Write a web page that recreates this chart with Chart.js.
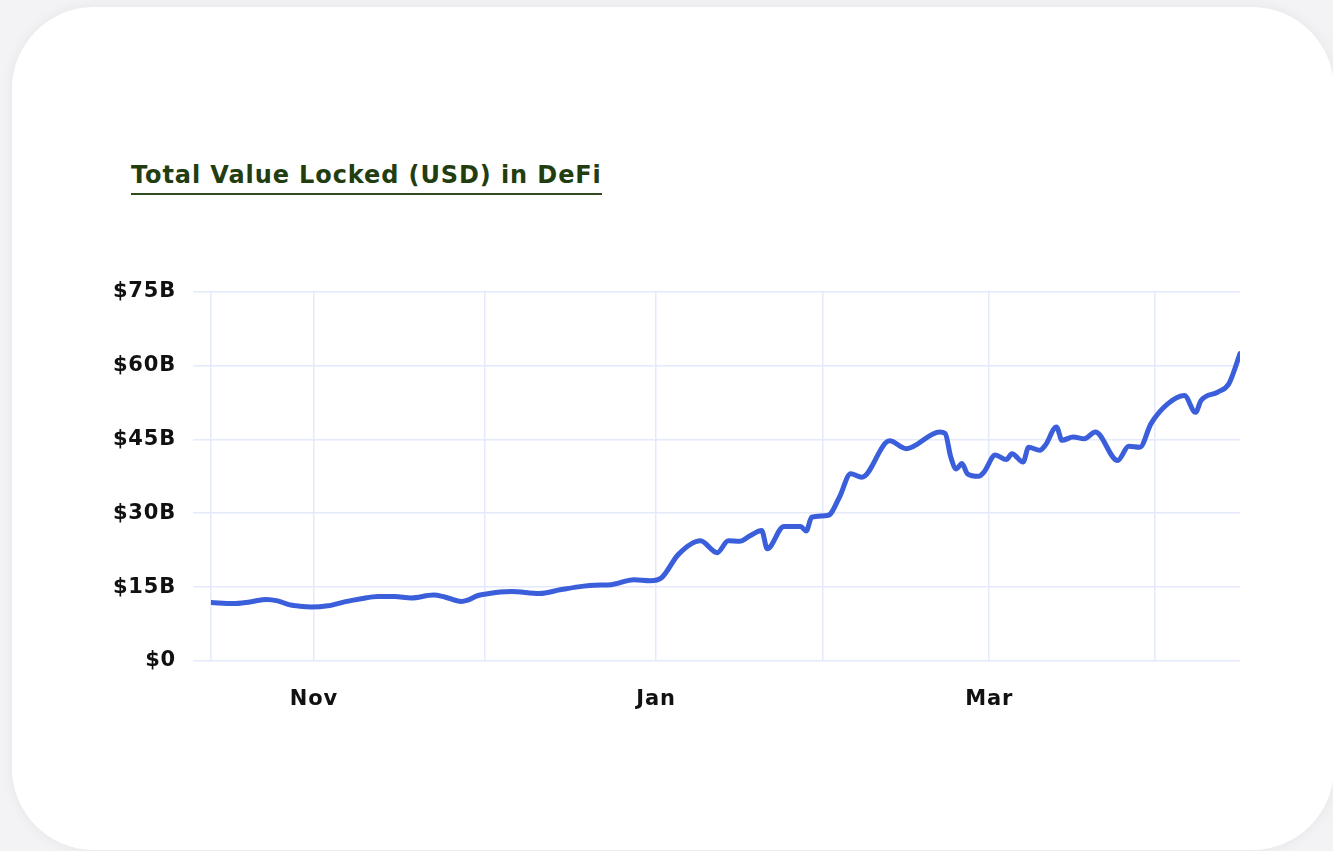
<!DOCTYPE html>
<html>
<head>
<meta charset="utf-8">
<script src="https://cdn.jsdelivr.net/npm/chart.js@4"></script>
<style>
    html, body {
        margin: 0;
        padding: 0;
        width: 1333px;
        height: 851px;
        background: #f3f3f5;
        overflow: hidden;
    }
    .card {
        position: absolute;
        left: 12px;
        top: 7px;
        width: 1322px;
        height: 843px;
        background: #ffffff;
        border-radius: 82px;
        box-shadow: 0 0 14px rgba(0, 0, 0, 0.06);
    }
    .title {
        position: absolute;
        left: 131px;
        top: 161px;
        font-family: "DejaVu Sans", sans-serif;
        font-weight: bold;
        font-size: 24px;
        letter-spacing: 0.9px;
        line-height: 28px;
        color: #223d10;
        border-bottom: 2px solid #2f4a1c;
        padding-bottom: 4px;
        white-space: nowrap;
    }
    .chart-box {
        position: absolute;
        left: 100px;
        top: 262px;
        width: 1150px;
        height: 449px;
    }
</style>
</head>
<body>
<div class="card"></div>
<div class="title">Total Value Locked (USD) in DeFi</div>
<div class="chart-box"><canvas id="tvlChart"></canvas></div>

<script>
// Days counted from the first point of the series (mid October)
const dayIndex = [
    0, 4, 7, 10, 12, 14, 16, 18, 21, 24, 27, 30, 33, 36, 40, 42, 45, 46, 48, 50,
    52, 54, 59, 63, 67, 69, 72, 76, 79, 81, 84, 88, 91, 93, 95, 97, 99, 100, 103, 106,
    107, 108, 111, 113, 115, 117, 122, 125, 131, 132, 133, 134, 135, 136, 138, 139, 141, 143, 144, 146,
    147, 149, 150, 152, 153, 155, 157, 159, 163, 165, 167, 169, 172, 175, 177, 178, 181, 183, 185
];

// Total value locked, billions of USD
const tvlBillions = [
    11.9, 11.65, 12.0, 12.5, 12.2, 11.45, 11.1, 10.95, 11.2, 12.0, 12.65, 13.1, 13.1, 12.8, 13.4, 13.0, 12.1, 12.3, 13.3, 13.7,
    14.0, 14.1, 13.7, 14.5, 15.2, 15.4, 15.5, 16.5, 16.3, 16.9, 21.6, 24.4, 22.0, 24.4, 24.3, 25.5, 26.5, 22.8, 27.3, 27.3,
    26.4, 29.2, 29.6, 33.3, 38.0, 37.3, 44.7, 43.1, 46.5, 46.2, 41.4, 39.0, 40.1, 38.0, 37.5, 38.4, 41.8, 40.9, 42.1, 40.4,
    43.4, 42.8, 43.8, 47.5, 44.8, 45.5, 45.1, 46.5, 40.7, 43.6, 43.4, 48.2, 52.2, 53.9, 50.5, 52.9, 54.6, 56.3, 62.4
];

// Vertical grid lines (month marks) and their labels
const gridDays = [0, 18.5, 49.3, 80.0, 109.9, 139.9, 169.7];
const gridLabels = ['', 'Nov', '', 'Jan', '', 'Mar', ''];

// Y axis ticks, billions
const yTicks = [0, 15, 30, 45, 60, 75];

const gridColor = '#e4e9fb';
const lineColor = '#3b5edb';
const tickFont = { family: 'DejaVu Sans', size: 21, weight: 'bold' };

// a little extra spacing on the axis labels, like the original font
const letterSpacingPlugin = {
    id: 'letterSpacing',
    beforeDraw: function(chart) {
        chart.ctx.letterSpacing = '0.8px';
    }
};

function buildChart() {
    const ctx = document.getElementById('tvlChart').getContext('2d');

    const points = tvlBillions.map((v, i) => ({ x: dayIndex[i], y: v }));

    return new Chart(ctx, {
        type: 'line',
        data: {
            datasets: [{
                label: 'TVL',
                data: points,
                borderColor: lineColor,
                borderWidth: 5,
                pointRadius: 0,
                fill: false,
                cubicInterpolationMode: 'monotone',
                borderJoinStyle: 'round',
                borderCapStyle: 'round'
            }]
        },
        plugins: [letterSpacingPlugin],
        options: {
            responsive: true,
            maintainAspectRatio: false,
            animation: false,
            layout: {
                padding: { top: 14, right: 10, left: 0, bottom: 0 }
            },
            plugins: {
                legend: { display: false },
                tooltip: { enabled: false }
            },
            scales: {
                x: {
                    type: 'linear',
                    min: 0,
                    max: 185,
                    afterBuildTicks: function(scale) {
                        scale.ticks = gridDays.map(d => ({ value: d }));
                    },
                    afterFit: function(scale) {
                        scale.height = 50;
                    },
                    border: { display: false },
                    grid: {
                        color: gridColor,
                        lineWidth: 1.5,
                        drawTicks: false
                    },
                    ticks: {
                        autoSkip: false,
                        maxRotation: 0,
                        padding: 26,
                        color: '#111111',
                        font: tickFont,
                        callback: function(value, index) {
                            return gridLabels[index];
                        }
                    }
                },
                y: {
                    min: 0,
                    max: 75,
                    afterBuildTicks: function(scale) {
                        scale.ticks = yTicks.map(v => ({ value: v }));
                    },
                    afterFit: function(scale) {
                        scale.width = 111;
                    },
                    border: { display: false },
                    grid: {
                        color: gridColor,
                        lineWidth: 1.5,
                        tickLength: 18,
                        tickColor: gridColor
                    },
                    ticks: {
                        padding: 17,
                        color: '#111111',
                        font: tickFont,
                        callback: function(value) {
                            return value === 0 ? '$0' : '$' + value + 'B';
                        }
                    }
                }
            }
        }
    });
}

buildChart();
</script>
</body>
</html>
